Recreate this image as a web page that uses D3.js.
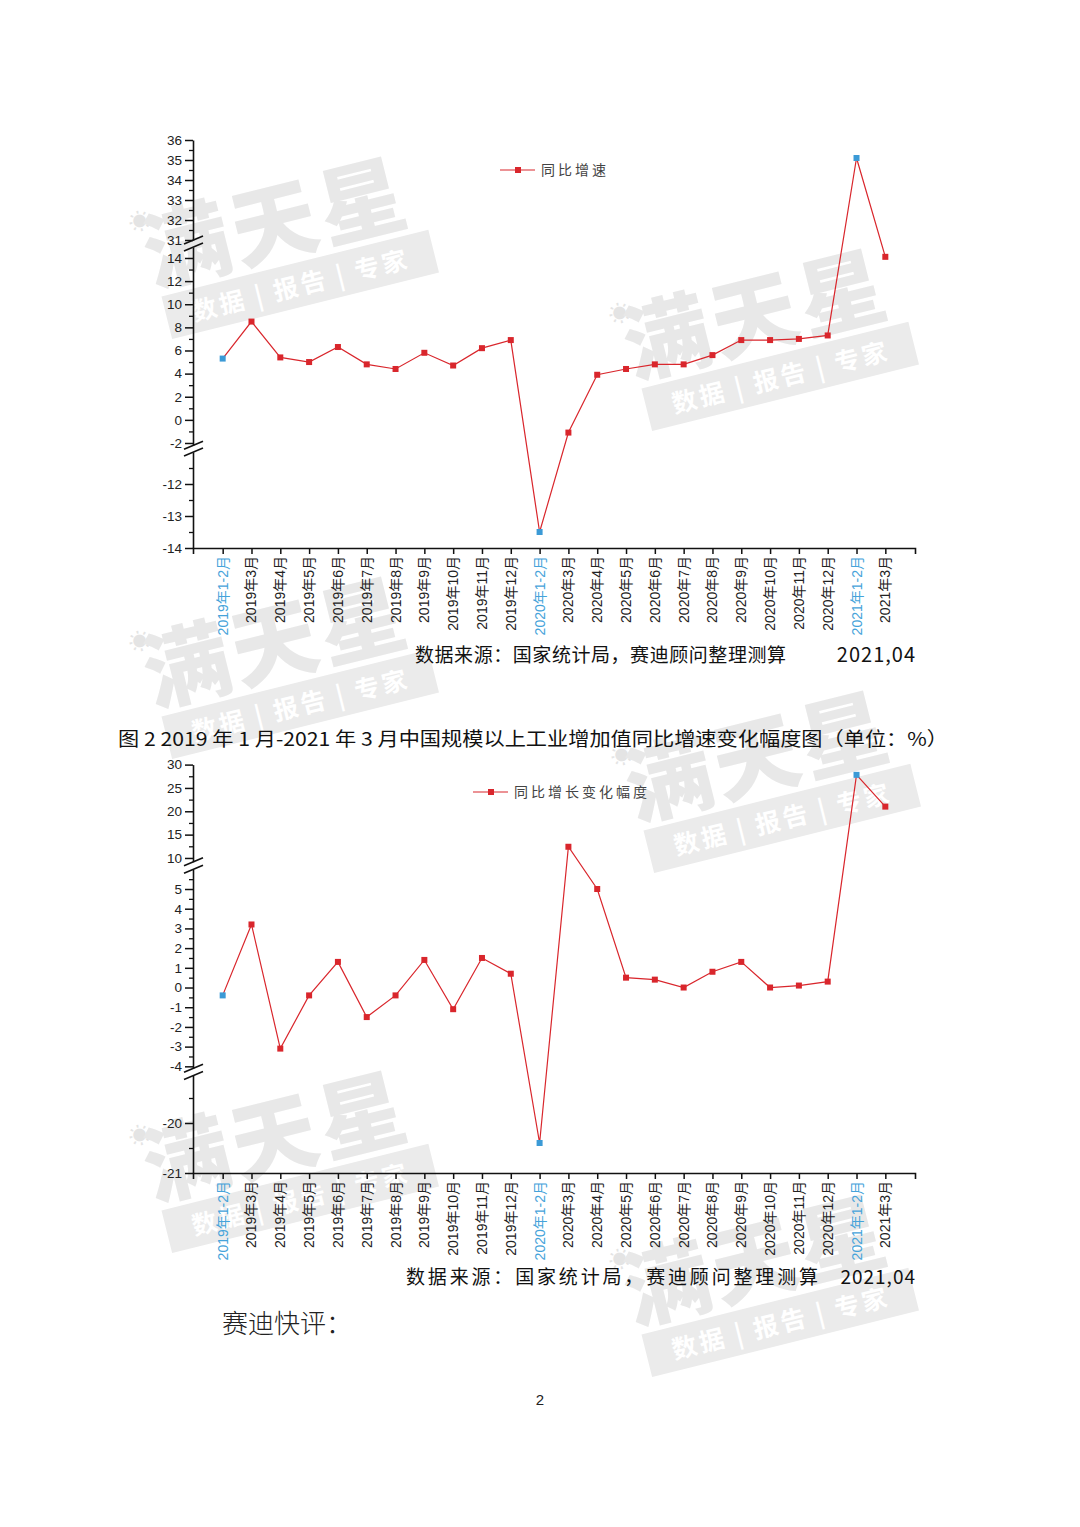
<!DOCTYPE html>
<html><head><meta charset="utf-8">
<script src="https://cdn.jsdelivr.net/npm/d3@7/dist/d3.min.js"></script>
<style>body{margin:0;background:#fff}svg{display:block}</style>
</head><body>
<svg id="page" width="1080" height="1527"></svg>
<script>
// ---------------- data ----------------
const categories = ["2019年1-2月","2019年3月","2019年4月","2019年5月","2019年6月","2019年7月","2019年8月","2019年9月","2019年10月","2019年11月","2019年12月",
  "2020年1-2月","2020年3月","2020年4月","2020年5月","2020年6月","2020年7月","2020年8月","2020年9月","2020年10月","2020年11月","2020年12月",
  "2021年1-2月","2021年3月"];
const growth = [5.3,8.5,5.4,5.0,6.3,4.8,4.4,5.8,4.7,6.2,6.9,-13.5,-1.1,3.9,4.4,4.8,4.8,5.6,6.9,6.9,7.0,7.3,35.1,14.1];
const growthChange = [-0.4,3.2,-3.1,-0.4,1.3,-1.5,-0.4,1.4,-1.1,1.5,0.7,-20.4,12.4,5.0,0.5,0.4,0.0,0.8,1.3,0.0,0.1,0.3,27.8,21.0];
const highlighted = ["2019年1-2月","2020年1-2月","2021年1-2月"];
const legend1 = "同比增速";
const legend2 = "同比增长变化幅度";
// y ticks for chart 1 (three axis segments)
const ticks1Top = [31,32,33,34,35,36];
const ticks1Mid = [-2,0,2,4,6,8,10,12,14];
const ticks1Bot = [-14,-13,-12];
const minor1Top = [31.5,32.5,33.5,34.5,35.5];
const minor1Mid = [-1,1,3,5,7,9,11,13];
const minor1Bot = [-13.5,-12.5,-11.5];
// y ticks for chart 2
const ticks2Top = [10,15,20,25,30];
const ticks2Mid = [-4,-3,-2,-1,0,1,2,3,4,5];
const ticks2Bot = [-21,-20];
const minor2Top = [12.5,17.5,22.5,27.5];
const minor2Mid = [-3.5,-2.5,-1.5,-0.5,0.5,1.5,2.5,3.5,4.5,5.5];
const minor2Bot = [-20.5,-19.5];
const captionText = "图 2 2019 年 1 月-2021 年 3 月中国规模以上工业增加值同比增速变化幅度图（单位：%）";
const sourceText = "数据来源：国家统计局，赛迪顾问整理测算";
const sourceDate = "2021,04";
const commentTitle = "赛迪快评：";
const pageNo = "2";
const wmMain = "满天星";
const wmSub = "数据 | 报告 | 专家";

// ---------------- drawing ----------------
const svg = d3.select("#page");
const RED = "#d9262c", BLUE = "#3b9ad6", LABELBLUE = "#45a3da";
const FONT = "'Liberation Sans', Arial, 'Noto Sans CJK SC', sans-serif";
const CJK = "'Noto Sans CJK SC', 'Noto Sans', sans-serif";

// watermarks
const wmPos = [[146,292],[626,384],[146,712],[628,826],[146,1206],[626,1330]];
const wm = svg.append("g").attr("class","watermarks");
wmPos.forEach(([x,y]) => {
  const g = wm.append("g").attr("transform",`translate(${x},${y}) rotate(-14)`);
  g.append("text").attr("x",0).attr("y",-62).attr("font-size",22).attr("fill","#e4e4e4").attr("font-family",CJK).text("☀");
  g.append("text").attr("x",8).attr("y",-4).attr("font-size",86).attr("font-weight",900)
    .attr("font-family",CJK).attr("fill","#e8e8e8").attr("letter-spacing",4).text(wmMain);
  g.append("rect").attr("x",14).attr("y",8).attr("width",275).attr("height",44).attr("fill","#ebebeb");
  g.append("text").attr("x",40).attr("y",40).attr("font-size",25).attr("font-weight",700)
    .attr("font-family",CJK).attr("fill","#ffffff").attr("letter-spacing",3).text(wmSub);
});

const x = d3.scalePoint().domain(categories).range([193,915]).padding(1.03);

function drawChart(cfg) {
  const segs = cfg.segs.map(s => Object.assign({}, s, {sc: d3.scaleLinear().domain(s.d).range(s.r)}));
  const y = v => { for (const s of segs) if (v >= s.d[0] && v <= s.d[1]) return s.sc(v); return null; };
  const g = svg.append("g");
  const axisX = 193;
  segs.forEach(s => {
    const ga = g.append("g").attr("transform",`translate(${axisX},0)`)
      .call(d3.axisLeft(s.sc).tickValues(s.major).tickSize(8).tickSizeOuter(0).tickPadding(3).tickFormat(d => String(d)));
    ga.select(".domain").attr("stroke","#111").attr("stroke-width",1.6);
    ga.selectAll(".tick line").attr("stroke","#111").attr("stroke-width",1.5);
    ga.selectAll(".tick text").attr("font-family",FONT).attr("font-size",13.5).attr("fill","#222");
    const gm = g.append("g").attr("transform",`translate(${axisX},0)`)
      .call(d3.axisLeft(s.sc).tickValues(s.minor).tickSize(4).tickSizeOuter(0).tickFormat(""));
    gm.select(".domain").remove();
    gm.selectAll(".tick line").attr("stroke","#111").attr("stroke-width",1.3);
  });
  // break marks
  for (let i = 0; i < segs.length - 1; i++) {
    [segs[i].r[0], segs[i+1].r[1]].forEach(yy => {
      g.append("line").attr("x1",184).attr("y1",yy+4).attr("x2",203).attr("y2",yy-4)
        .attr("stroke","#111").attr("stroke-width",1.6);
    });
  }
  // x axis
  const yAxis = segs[segs.length-1].r[0];
  const gx = g.append("g").attr("transform",`translate(0,${yAxis})`)
    .call(d3.axisBottom(x).tickSize(6).tickSizeOuter(6).tickFormat(""));
  gx.select(".domain").attr("stroke","#111").attr("stroke-width",1.6);
  gx.selectAll(".tick line").attr("stroke","#111").attr("stroke-width",1.5);
  categories.forEach(c => {
    g.append("text").attr("transform",`translate(${x(c)+5},${yAxis+8}) rotate(-90)`)
      .attr("text-anchor","end").attr("font-family",FONT).attr("font-size",14)
      .attr("fill", highlighted.includes(c) ? LABELBLUE : "#222").text(c);
  });
  // line
  const vals = cfg.values;
  g.append("path").datum(vals)
    .attr("d", d3.line().x((d,i)=>x(categories[i])).y(d=>y(d)))
    .attr("fill","none").attr("stroke",RED).attr("stroke-width",1.2);
  g.selectAll(".pt").data(vals).enter().append("rect")
    .attr("x",(d,i)=>x(categories[i])-3).attr("y",d=>y(d)-3).attr("width",6).attr("height",6)
    .attr("fill",(d,i)=> highlighted.includes(categories[i]) ? BLUE : RED);
  // legend
  const L = cfg.legend;
  g.append("line").attr("x1",L.x).attr("x2",L.x+35).attr("y1",L.y).attr("y2",L.y).attr("stroke",RED).attr("stroke-width",1.2);
  g.append("rect").attr("x",L.x+15).attr("y",L.y-3).attr("width",6).attr("height",6).attr("fill",RED);
  g.append("text").attr("x",L.x+41).attr("y",L.y+5).attr("font-family",CJK).attr("font-size",14)
    .attr("letter-spacing",3).attr("fill","#444").text(L.text);
}

drawChart({
  values: growth,
  segs: [
    {d:[31,36], r:[240,140], major:ticks1Top, minor:minor1Top},
    {d:[-2.2,14.95], r:[445.3,247], major:ticks1Mid, minor:minor1Mid},
    {d:[-14,-11.0], r:[548,452], major:ticks1Bot, minor:minor1Bot}
  ],
  legend:{x:500, y:170, text:legend1}
});

drawChart({
  values: growthChange,
  segs: [
    {d:[9.2,30], r:[861.7,764.6], major:ticks2Top, minor:minor2Top},
    {d:[-4.1,6.0], r:[1068.3,869.3], major:ticks2Mid, minor:minor2Mid},
    {d:[-21,-19.05], r:[1173,1075.5], major:ticks2Bot, minor:minor2Bot}
  ],
  legend:{x:473, y:792, text:legend2}
});

// texts
function source(yb, x0, x1, xDate0, fs) {
  svg.append("text").attr("x",x0).attr("y",yb).attr("font-family",CJK).attr("font-size",19)
    .attr("textLength",x1-x0).attr("lengthAdjust","spacing").attr("fill","#111").text(sourceText);
  svg.append("text").attr("x",916).attr("y",yb).attr("text-anchor","end").attr("font-family",CJK)
    .attr("font-size",fs).attr("letter-spacing",1).attr("fill","#111").text(sourceDate);
}
source(662, 415, 786, 830, 20);
source(1284, 406, 818, 840, 19);

svg.append("text").attr("x",118).attr("y",746).attr("font-family",CJK).attr("font-size",19)
  .attr("textLength",830).attr("lengthAdjust","spacingAndGlyphs").attr("fill","#111").text(captionText);

svg.append("text").attr("x",222).attr("y",1333).attr("font-family",CJK).attr("font-size",26)
  .attr("font-weight",300).attr("fill","#222").text(commentTitle);

svg.append("text").attr("x",540).attr("y",1405).attr("text-anchor","middle").attr("font-family",FONT)
  .attr("font-size",15).attr("fill","#222").text(pageNo);
</script>
</body></html>
